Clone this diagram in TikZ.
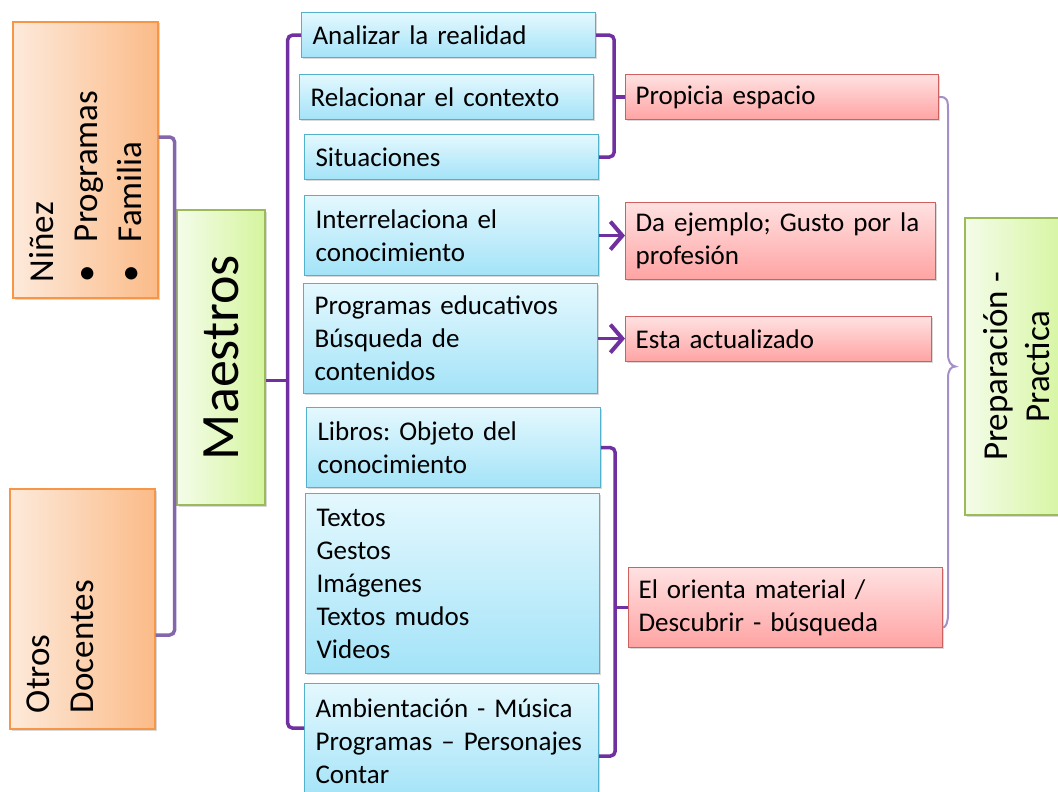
\documentclass[tikz,border=0pt]{standalone}
\usepackage{fontspec}
\setmainfont{Carlito}
\usetikzlibrary{positioning,calc,arrows.meta,shadows}
\definecolor{azul1}{HTML}{E4F8FE}
\definecolor{azul2}{HTML}{A3E3F8}
\definecolor{azulborde}{HTML}{52B2CC}
\definecolor{rojo1}{HTML}{FFE1E1}
\definecolor{rojo2}{HTML}{FFA3A3}
\definecolor{rojoborde}{HTML}{D0605D}
\definecolor{naranja1}{HTML}{FDEADB}
\definecolor{naranja2}{HTML}{FBBB88}
\definecolor{naranjaborde}{HTML}{F79646}
\definecolor{verde1}{HTML}{F4FCE9}
\definecolor{verde2}{HTML}{D5F59E}
\definecolor{verdeborde}{HTML}{9BBB59}
\definecolor{morado}{HTML}{7030A0}
\definecolor{moradoclaro}{HTML}{8466AC}
\definecolor{lila}{HTML}{A58FC8}
\newcommand\vineta{\makebox[40pt][l]{\textbullet}}
\frenchspacing
\tikzset{
  sombra/.style={drop shadow={shadow xshift=1.5pt,shadow yshift=-1.5pt,opacity=0.3}},
  caja/.style={anchor=north west, align=left, inner ysep=0pt, line width=1.2pt,
    font=\fontsize{27}{33}\selectfont, sombra},
  azul/.style={caja, draw=azulborde, top color=azul1, bottom color=azul2,
    inner xsep=11pt, text width=272pt},
  rojo/.style={caja, draw=rojoborde, top color=rojo1, bottom color=rojo2, inner xsep=10pt},
  naranja/.style={draw=naranjaborde, line width=1.2pt, left color=naranja1, right color=naranja2,
    rotate=90, align=left, minimum height=145pt, inner xsep=16pt, inner ysep=0pt,
    font=\fontsize{35}{44}\selectfont, sombra},
  verde/.style={draw=verdeborde, line width=1.2pt, left color=verde1, right color=verde2,
    rotate=90, inner sep=0pt, sombra},
  corchete/.style={draw=morado, line width=3.5pt, rounded corners=5pt},
  flecha/.style={draw=morado, line width=3.5pt, -{Straight Barb[length=12pt,width=28pt,line width=4pt]}},
  llave/.style={draw=lila, line width=2pt}
}
\begin{document}
\begin{tikzpicture}[x=1pt,y=-1pt]
\useasboundingbox (0,0) rectangle (1058,792);
\clip (0,0) rectangle (1058,792);

\node[naranja, text width=244pt] (ninez) at (85.5,160) {Niñez\\\vineta Programas\\\vineta Familia};
\node[naranja, text width=208pt] (otros) at (82.5,609) {Otros\\Docentes\\~};
\node[verde, minimum width=295pt, minimum height=88pt, font=\fontsize{54}{60}\selectfont] (maestros) at (221,357.5) {Maestros};

\node[azul, minimum height=45pt] (analizar) at (301,12) {Analizar la realidad};
\node[azul, minimum height=45pt] (relac) at (299,74) {Relacionar el contexto};
\node[azul, minimum height=45pt] (situac) at (304,134) {Situaciones};
\node[azul, minimum height=80pt] (interrel) at (304,195) {Interrelaciona el\\conocimiento};
\node[azul, minimum height=110pt] (progr) at (303,283) {Programas educativos\\Búsqueda de\\contenidos};
\node[azul, minimum height=80pt] (libros) at (306,407) {Libros: Objeto del\\conocimiento};
\node[azul, minimum height=180pt] (textos) at (305,493) {Textos\\Gestos\\Imágenes\\Textos mudos\\Videos};
\node[azul, minimum height=115pt] (ambient) at (304,683) {Ambientación - Música\\Programas -- Personajes\\Contar};

\node[rojo, text width=293pt, minimum height=45pt] (propicia) at (625,74) {Propicia espacio};
\node[rojo, text width=290pt, minimum height=77pt] (daej) at (625,202) {Da ejemplo; Gusto por la\\profesión};
\node[rojo, text width=286pt, minimum height=45pt] (esta) at (625,316) {Esta actualizado};
\node[rojo, text width=294pt, minimum height=80pt] (orienta) at (628,567) {El orienta material /\\Descubrir - búsqueda};

\node[verde, minimum width=297pt, minimum height=103pt, align=center, font=\fontsize{35}{42}\selectfont] (prepar) at (1016.5,366.5) {Preparación -\\Practica};

\draw[corchete, draw=moradoclaro] ($(ninez.south)+(0,-23)$) -- ++(16,0) coordinate (eje1) |- ($(otros.south)+(0,26)$);
\draw[corchete, draw=moradoclaro] ($(maestros.north)+(0,30)$) coordinate (m1) -- (m1 -| eje1);

\draw[corchete] ($(maestros.south)+(0,23)$) -- ++(22,0) coordinate (eje2);
\draw[corchete] (analizar.west) -| (eje2) |- ($(ambient.west)+(0,-13)$);

\draw[corchete] (analizar.east) -- ++(18,0) coordinate (eje3) |- (situac.east);
\draw[corchete] (propicia.west) -- (propicia.west -| eje3);

\draw[flecha] (interrel.east) -- (interrel.east -| daej.west);
\draw[flecha] (progr.east) -- (progr.east -| esta.west);

\draw[corchete] (libros.east) -- ++(14,0) coordinate (eje4) |- ($(ambient.east)+(0,15)$);
\draw[corchete] (orienta.west) -- (orienta.west -| eje4);

\coordinate (punta) at ($(prepar.north)+(-9,0)$);
\draw[llave] (propicia.east) .. controls (947,96.5) and (948,100) .. (948,110) -- (948,354)
  .. controls (948,362) and (951,365.5) .. (punta)
  .. controls (951,366.5) and (948,370) .. (948,378) -- (948,614)
  .. controls (948,622) and (946,627) .. ($(orienta.east)+(0,20)$);
\end{tikzpicture}
\end{document}
